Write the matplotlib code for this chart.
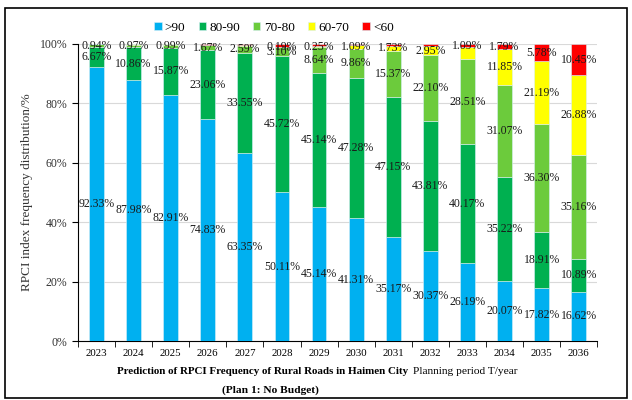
import matplotlib
matplotlib.use("Agg")
import matplotlib.pyplot as plt
from matplotlib.patches import Rectangle
import numpy as np

plt.rcParams['font.family'] = ['Liberation Serif', 'DejaVu Serif']

years = ['2023', '2024', '2025', '2026', '2027', '2028', '2029',
         '2030', '2031', '2032', '2033', '2034', '2035', '2036']
series_names = ['>90', '80-90', '70-80', '60-70', '<60']
colors = ['#00B0F0', '#00B050', '#6CCB3C', '#FFFF00', '#FF0000']

above90 = [92.33, 87.98, 82.91, 74.83, 63.35, 50.11, 45.14, 41.31, 35.17, 30.37, 26.19, 20.07, 17.82, 16.62]
r80_90 = [6.67, 10.86, 15.87, 23.06, 33.55, 45.72, 45.14, 47.28, 47.15, 43.81, 40.17, 35.22, 18.91, 10.89]
r70_80 = [0.94, 0.97, 0.99, 1.67, 2.59, 3.10, 8.64, 9.86, 15.37, 22.10, 28.51, 31.07, 36.30, 35.16]
r60_70 = [0.04, 0.12, 0.15, 0.24, 0.30, 0.19, 0.25, 1.09, 1.73, 2.95, 4.04, 11.85, 21.19, 26.88]
below60 = [0.02, 0.07, 0.08, 0.20, 0.21, 0.88, 0.83, 0.46, 0.58, 0.77, 1.09, 1.79, 5.78, 10.45]

# which segments carry a visible label
show_60_70 = [False, False, False, False, False, True, True, True, True, True, False, True, True, True]
show_below60 = [False, False, False, False, False, False, False, False, False, False, True, True, True, True]

data = [above90, r80_90, r70_80, r60_70, below60]
shows = [[True] * 14, [True] * 14, [True] * 14, show_60_70, show_below60]

fig = plt.figure(figsize=(6.32, 4.0), dpi=100)
ax = fig.add_axes([0.1234, 0.1475, 0.8216, 0.7425])

x = np.arange(len(years))
bottom = np.zeros(len(years))
for name, vals, col, show in zip(series_names, data, colors, shows):
    vals = np.array(vals)
    ax.bar(x, vals, 0.4, bottom=bottom, color=col, label=name,
           edgecolor='#d8f0f8', linewidth=0.4, zorder=3)
    for i in range(len(years)):
        if show[i]:
            ax.text(x[i], bottom[i] + vals[i] / 2, '%.2f%%' % vals[i],
                    ha='center', va='center', fontsize=8.5, color='#1a1a1a', zorder=5)
    bottom += vals

ax.set_xlim(-0.5, len(years) - 0.5)
ax.set_ylim(0, 100)
ax.set_yticks(np.arange(0, 101, 20))
ax.set_yticklabels(['%d%%' % v for v in range(0, 101, 20)], fontsize=8.5, color='#333333')
ax.set_xticks(x)
ax.set_xticklabels(years, fontsize=7.8)
ax.set_xticks(np.arange(-0.5, len(years), 1), minor=True)
ax.tick_params(axis='x', which='major', length=0, pad=6)
ax.tick_params(axis='x', which='minor', length=4, direction='out')
ax.tick_params(axis='y', length=4, direction='out')
ax.yaxis.grid(True, color='#d9d9d9', linewidth=0.8, zorder=0)
ax.spines['top'].set_visible(False)
ax.spines['right'].set_visible(False)
ax.set_ylabel('RPCI index frequency distribution/%', fontsize=9.5, color='#333333', labelpad=5)

fig.legend(loc='center', bbox_to_anchor=(274 / 632, 1 - 28 / 400), ncol=5, frameon=False,
           fontsize=9.5, handlelength=0.55, handleheight=0.55, handletextpad=0.25, columnspacing=1.0)

fig.text(263 / 632, 1 - 372 / 400, 'Prediction of RPCI Frequency of Rural Roads in Haimen City',
         ha='center', va='center', fontsize=7.9, fontweight='bold')
fig.text(270 / 632, 1 - 390 / 400, '(Plan 1: No Budget)',
         ha='center', va='center', fontsize=8.2, fontweight='bold')
fig.text(465 / 632, 1 - 372 / 400, 'Planning period T/year', ha='center', va='center', fontsize=8.2)

fig.add_artist(Rectangle((0.008, 0.005), 0.984, 0.975, transform=fig.transFigure,
                         fill=False, edgecolor='black', linewidth=1.2))

fig.savefig('out.png', dpi=100)
